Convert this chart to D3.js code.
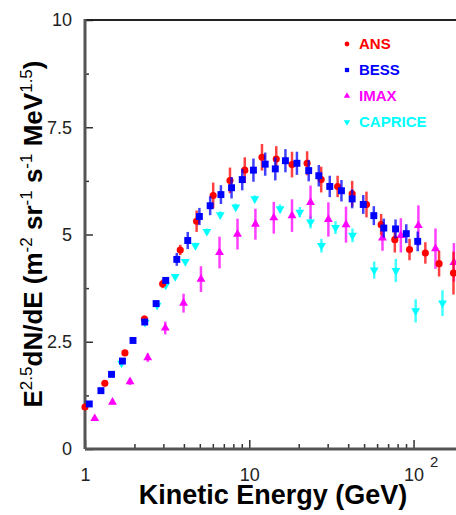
<!DOCTYPE html>
<html>
<head>
<meta charset="utf-8">
<script src="https://cdn.jsdelivr.net/npm/d3@7"></script>
<style>
  body { margin: 0; background: #fff; }
  svg { display: block; }
</style>
</head>
<body>
<div id="viz"></div>
<script>
// dimensions of the page and of the frame
const width = 456
const height = 515
const margin = {left: 85, top: 20, right: -7, bottom: 66}
const g_width = width - margin.left - margin.right;
const g_height = height - margin.top - margin.bottom;

// AMS (labelled ANS in the legend) data: energy (GeV), E^2.5 flux, error
const ansE = [1.0, 1.32, 1.75, 2.30, 2.97, 3.80, 4.78, 6.03, 7.63, 9.39, 11.95, 14.6, 18.2, 22.5, 27.4, 34.5, 42.3, 51.7, 63.5, 76.9, 94.5, 118, 143, 175];
const ansV = [0.98, 1.53, 2.24, 3.03, 3.85, 4.64, 5.31, 5.91, 6.26, 6.50, 6.80, 6.76, 6.63, 6.66, 6.28, 6.12, 5.95, 5.70, 5.23, 4.88, 4.65, 4.57, 4.32, 4.10];
const ansErr = [0.05, 0.05, 0.06, 0.08, 0.1, 0.12, 0.25, 0.3, 0.3, 0.3, 0.31, 0.3, 0.3, 0.28, 0.3, 0.25, 0.3, 0.3, 0.25, 0.3, 0.25, 0.25, 0.3, 0.5];

// BESS
const bessE = [1.062, 1.25, 1.45, 1.69, 1.96, 2.31, 2.71, 3.10, 3.62, 4.22, 4.97, 5.78, 6.72, 7.80, 9.06, 10.6, 12.5, 14.4, 16.6, 19.5, 23.0, 26.5, 30.9, 36.4, 42.3, 49.4, 57.3, 65.9, 77.7, 90.3, 106];
const bessV = [1.05, 1.36, 1.74, 2.05, 2.53, 2.96, 3.39, 3.93, 4.42, 4.86, 5.42, 5.67, 5.93, 6.09, 6.28, 6.50, 6.64, 6.53, 6.72, 6.66, 6.49, 6.37, 6.12, 6.02, 5.83, 5.70, 5.44, 5.15, 5.13, 5.02, 4.84];
const bessErr = [0.03, 0.03, 0.04, 0.04, 0.05, 0.05, 0.06, 0.08, 0.15, 0.2, 0.2, 0.22, 0.22, 0.25, 0.25, 0.27, 0.27, 0.27, 0.27, 0.27, 0.25, 0.25, 0.25, 0.25, 0.22, 0.22, 0.22, 0.22, 0.22, 0.22, 0.23];

// IMAX
const imaxE = [1.146, 1.47, 1.88, 2.41, 3.08, 3.98, 5.08, 6.59, 8.48, 10.9, 14.1, 18.2, 23.6, 30.3, 38.8, 64.7, 83.7, 107, 136, 176];
const imaxV = [0.71, 1.09, 1.57, 2.13, 2.82, 3.40, 3.96, 4.58, 5.01, 5.24, 5.39, 5.44, 5.75, 5.35, 5.23, 4.92, 4.98, 5.21, 4.67, 4.35];
const imaxErr = [0.04, 0.05, 0.08, 0.1, 0.15, 0.22, 0.3, 0.37, 0.36, 0.36, 0.37, 0.38, 0.39, 0.4, 0.42, 0.3, 0.4, 0.47, 0.47, 0.45];

// CAPRICE
const capE = [1.67, 2.32, 2.75, 3.10, 3.54, 4.08, 4.70, 5.52, 6.66, 8.27, 10.8, 15.4, 20.3, 23.6, 27.5, 33.5, 42.5, 57.6, 78.0, 103, 150];
const capV = [2.00, 2.95, 3.35, 3.82, 4.02, 4.37, 4.74, 5.07, 5.46, 5.64, 5.83, 5.60, 5.52, 5.29, 4.74, 5.16, 4.98, 4.17, 4.16, 3.22, 3.40];
const capErr = [0.03, 0.04, 0.05, 0.05, 0.06, 0.06, 0.07, 0.07, 0.08, 0.08, 0.08, 0.1, 0.12, 0.15, 0.16, 0.15, 0.16, 0.2, 0.27, 0.27, 0.3];

// axis ticks
const yMajor = [0, 2.5, 5, 7.5, 10];
const yMinor = [1.25, 3.75, 6.25, 8.75];
const xMajor = [1, 10, 100];
const xMinor = [2, 3, 4, 5, 6, 7, 8, 9, 20, 30, 40, 50, 60, 70, 80, 90];
const legendNames = ["ANS", "BESS", "IMAX", "CAPRICE"];

var svg = d3.select("#viz")
        .append("svg")
        .attr("width", width)
        .attr("height", height)
        .append("g")
        .attr("transform", "translate(" + margin.left + "," + margin.top + ")");

// scales
const x = d3.scaleLog().domain([1, 200]).range([0, g_width]);
const y = d3.scaleLinear().domain([0, 10]).range([g_height, 0]);

// y axis: major ticks with labels, minor without, all pointing inward
svg.append("g")
    .attr("class", "yaxis")
    .call(d3.axisLeft(y).tickValues(yMajor).tickSize(-8).tickPadding(13)
        .tickFormat(function(d) {return d === 0 ? "0" : d3.format("~g")(d)}))
    .call(function(g) {
        g.select(".domain").remove();
        g.selectAll("line").attr("stroke", "#333").attr("stroke-width", 1.5);
        g.selectAll("text").attr("font-family", "Liberation Sans, Arial, sans-serif")
            .attr("font-size", 18).attr("fill", "#222");
    });
svg.append("g")
    .call(d3.axisLeft(y).tickValues(yMinor).tickSize(-4).tickFormat(""))
    .call(function(g) {
        g.select(".domain").remove();
        g.selectAll("line").attr("stroke", "#333").attr("stroke-width", 1.5);
    });

// x axis
svg.append("g")
    .attr("class", "xaxis")
    .attr("transform", "translate(0," + g_height + ")")
    .call(d3.axisBottom(x).tickValues(xMajor).tickSize(-9).tickPadding(19)
        .tickFormat(function(d) {return d === 100 ? "10" : String(d)}))
    .call(function(g) {
        g.select(".domain").remove();
        g.selectAll("line").attr("stroke", "#333").attr("stroke-width", 1.5);
        g.selectAll("text").attr("font-family", "Liberation Sans, Arial, sans-serif")
            .attr("font-size", 18).attr("fill", "#222");
        // exponent on the 10^2 label
        g.selectAll(".tick").filter(function(d) {return d === 100})
            .append("text")
            .attr("x", 20)
            .attr("y", 18)
            .attr("font-family", "Liberation Sans, Arial, sans-serif")
            .attr("font-size", 15)
            .attr("fill", "#222")
            .attr("text-anchor", "middle")
            .text("2");
    });
svg.append("g")
    .attr("transform", "translate(0," + g_height + ")")
    .call(d3.axisBottom(x).tickValues(xMinor).tickSize(-5).tickFormat(""))
    .call(function(g) {
        g.select(".domain").remove();
        g.selectAll("line").attr("stroke", "#333").attr("stroke-width", 1.5);
    });

// frame lines: top, left, bottom
svg.append("line").attr("x1", 0).attr("x2", g_width).attr("y1", 0).attr("y2", 0)
    .attr("stroke", "#222").attr("stroke-width", 2);
svg.append("line").attr("x1", 0).attr("x2", 0).attr("y1", -1).attr("y2", g_height)
    .attr("stroke", "#555").attr("stroke-width", 3);
svg.append("line").attr("x1", 0).attr("x2", g_width).attr("y1", g_height).attr("y2", g_height)
    .attr("stroke", "#555").attr("stroke-width", 3);

// marker shapes
const shapes = {
    circle: d3.symbol().type(d3.symbolCircle).size(40),
    square: d3.symbol().type(d3.symbolSquare).size(48),
    up: d3.symbol().type(d3.symbolTriangle).size(34),
    down: d3.symbol().type(d3.symbolTriangle).size(34)
};

function drawSeries(E, V, err, color, shape) {
    const pts = E.map(function(e, i) {return {e: e, v: V[i], err: err[i]}});
    const g = svg.append("g");
    g.selectAll("line")
        .data(pts)
        .enter()
        .append("line")
        .attr("x1", function(d) {return x(d.e)})
        .attr("x2", function(d) {return x(d.e)})
        .attr("y1", function(d) {return y(d.v - d.err)})
        .attr("y2", function(d) {return y(d.v + d.err)})
        .attr("stroke", color)
        .attr("stroke-opacity", 0.75)
        .attr("stroke-width", 2.5);
    g.selectAll("path")
        .data(pts)
        .enter()
        .append("path")
        .attr("d", shapes[shape])
        .attr("transform", function(d) {
            return "translate(" + x(d.e) + "," + y(d.v) + ")" + (shape === "down" ? " rotate(180)" : "");
        })
        .attr("fill", color);
}

drawSeries(capE, capV, capErr, "#00ffff", "down");
drawSeries(imaxE, imaxV, imaxErr, "#ff00ff", "up");
drawSeries(ansE, ansV, ansErr, "#ff0000", "circle");
drawSeries(bessE, bessV, bessErr, "#0000ff", "square");

// legend
const legendColors = ["#ff0000", "#0000ff", "#ff00ff", "#00ffff"];
const legendShapes = ["circle", "square", "up", "down"];
const legend = svg.append("g").attr("transform", "translate(" + (347 - margin.left) + "," + (44 - margin.top) + ")");
legendNames.forEach(function(name, i) {
    const row = legend.append("g").attr("transform", "translate(0," + (i * 26) + ")");
    const sym = d3.symbol().type(legendShapes[i] === "circle" ? d3.symbolCircle :
        legendShapes[i] === "square" ? d3.symbolSquare : d3.symbolTriangle).size(18);
    row.append("path")
        .attr("d", sym)
        .attr("transform", legendShapes[i] === "down" ? "rotate(180)" : null)
        .attr("fill", legendColors[i]);
    row.append("text")
        .attr("x", 12)
        .attr("y", 0)
        .attr("dy", "0.36em")
        .attr("font-family", "Liberation Sans, Arial, sans-serif")
        .attr("font-weight", "bold")
        .attr("font-size", 15)
        .attr("fill", legendColors[i])
        .text(name);
});

// x label
svg.append("text")
    .attr("x", 273 - margin.left)
    .attr("y", 504 - margin.top)
    .attr("text-anchor", "middle")
    .attr("font-family", "Liberation Sans, Arial, sans-serif")
    .attr("font-weight", "bold")
    .attr("font-size", 27)
    .text("Kinetic Energy (GeV)");

// y label with superscripts
const ylab = svg.append("text")
    .attr("transform", "translate(" + (42 - margin.left) + "," + (234 - margin.top) + ") rotate(-90)")
    .attr("text-anchor", "middle")
    .attr("font-family", "Liberation Sans, Arial, sans-serif")
    .attr("font-weight", "bold")
    .attr("font-size", 26);
const ylabParts = [["E", false], ["2.5", true], ["dN/dE (m", false], ["-2", true], [" sr", false], ["-1", true],
    [" s", false], ["-1", true], [" MeV", false], ["1.5", true], [")", false]];
ylabParts.forEach(function(p) {
    ylab.append("tspan")
        .attr("font-size", p[1] ? 17 : 26)
        .attr("font-weight", p[1] ? "normal" : "bold")
        .attr("baseline-shift", p[1] ? "60%" : null)
        .text(p[0]);
});
</script>
</body>
</html>
